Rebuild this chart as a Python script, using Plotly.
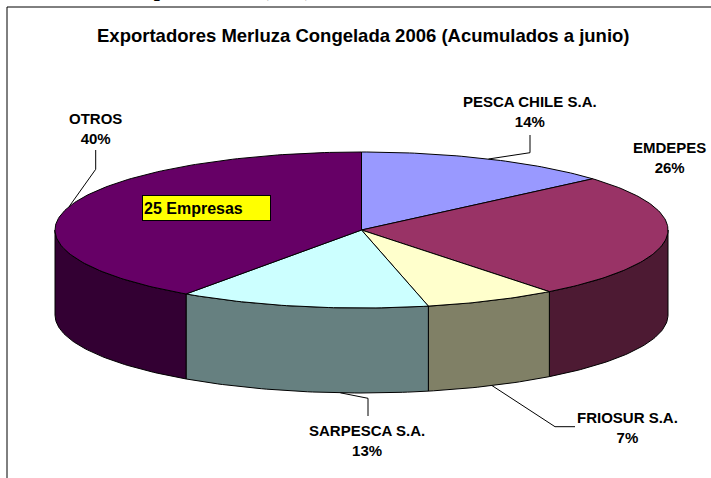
import numpy as np
import plotly.graph_objects as go

# ---- data ----
companies = ["PESCA CHILE S.A.", "EMDEPES", "FRIOSUR S.A.", "SARPESCA S.A.", "OTROS"]
shares = [13.6, 25.9, 7.0, 13.2, 40.3]
top_colors = ["#9999FF", "#993366", "#FFFFCC", "#CCFFFF", "#660066"]
side_colors = ["#4D4D80", "#4D1A33", "#808066", "#668080", "#330033"]
title_text = "Exportadores Merluza Congelada 2006 (Acumulados a junio)"
note_text = "25 Empresas"

# ---- layout geometry (pixel space) ----
W, H = 711, 478
CX, CY, RX, RY, DEPTH = 361.5, 230.0, 306.5, 78.0, 85.0

label_pos = {
    "PESCA CHILE S.A.": (530, 111),
    "EMDEPES": (669, 157),
    "FRIOSUR S.A.": (627, 427),
    "SARPESCA S.A.": (367, 440),
    "OTROS": (95, 128),
}
leader_elbows = {
    "PESCA CHILE S.A.": [(530, 135), (530, 152.7)],
    "FRIOSUR S.A.": [(575, 426.7), (555, 426.7)],
    "SARPESCA S.A.": [(368, 416), (368, 398.3)],
    "OTROS": [(95.7, 150), (95.7, 169.3)],
}
leader_angle_shift = {"SARPESCA S.A.": -7.2}


def ell(theta, dy=0.0):
    t = np.radians(theta)
    return CX + RX * np.sin(t), CY - RY * np.cos(t) + dy


def arc(a, b, dy=0.0):
    n = max(2, int(abs(b - a)) + 2)
    th = np.linspace(a, b, n)
    x, y = ell(th, dy)
    return list(x), list(y)


total = float(sum(shares))
pcts = [round(s / total * 100) for s in shares]
bounds = np.concatenate([[0.0], np.cumsum(shares) / total * 360.0])

fig = go.Figure()

# side walls (visible front half: 90..270 deg)
for i, name in enumerate(companies):
    a, b = max(bounds[i], 90.0), min(bounds[i + 1], 270.0)
    if b <= a:
        continue
    tx, ty = arc(a, b)
    bx, by = arc(b, a, DEPTH)
    fig.add_trace(go.Scatter(
        x=tx + bx + [tx[0]], y=ty + by + [ty[0]], mode="lines", fill="toself",
        fillcolor=side_colors[i], line=dict(color="black", width=1),
        hoverinfo="skip", showlegend=False))

# top faces
for i, name in enumerate(companies):
    ax_, ay_ = arc(bounds[i], bounds[i + 1])
    fig.add_trace(go.Scatter(
        x=[CX] + ax_ + [CX], y=[CY] + ay_ + [CY], mode="lines", fill="toself",
        fillcolor=top_colors[i], line=dict(color="black", width=1),
        name=name, hoverinfo="name", showlegend=False))

# leader lines
for i, name in enumerate(companies):
    if name not in leader_elbows:
        continue
    mid = (bounds[i] + bounds[i + 1]) / 2 + leader_angle_shift.get(name, 0.0)
    dy = DEPTH if 90 < mid < 270 else 0.0
    ex, ey = ell(mid, dy)
    pts = leader_elbows[name]
    fig.add_trace(go.Scatter(
        x=[p[0] for p in pts] + [ex], y=[p[1] for p in pts] + [ey],
        mode="lines", line=dict(color="black", width=1),
        hoverinfo="skip", showlegend=False))

annotations = []
for i, name in enumerate(companies):
    lx, ly = label_pos[name]
    annotations.append(dict(
        x=lx, y=ly, xref="x", yref="y", showarrow=False,
        text=f"<b>{name}<br>{pcts[i]}%</b>", align="center",
        xanchor="center", yanchor="middle",
        font=dict(family="Liberation Sans, Arial", size=15, color="black")))

annotations.append(dict(
    x=363.5, y=35, xref="x", yref="y", showarrow=False,
    text=f"<b>{title_text}</b>", xanchor="center", yanchor="middle",
    font=dict(family="Liberation Sans, Arial", size=18.5, color="black")))

annotations.append(dict(
    x=142, y=195, xref="x", yref="y", showarrow=False,
    text=f"<b>{note_text}</b>", xanchor="left", yanchor="top", align="left",
    width=125, height=22, bgcolor="#FFFF00", bordercolor="black",
    borderwidth=1, borderpad=1,
    font=dict(family="Liberation Sans, Arial", size=16, color="black")))

# clipped heading above the chart frame
annotations.append(dict(
    x=126, y=3, xref="x", yref="y", showarrow=False,
    text="<b>Exportadores (ton.)</b>", xanchor="left", yanchor="bottom",
    font=dict(family="Liberation Serif, Times New Roman", size=22, color="black")))

shapes = [
    dict(type="line", xref="x", yref="y", x0=7, y0=7, x1=W, y1=7,
         line=dict(color="black", width=1)),
    dict(type="line", xref="x", yref="y", x0=7, y0=7, x1=7, y1=H,
         line=dict(color="black", width=1)),
]

fig.update_layout(
    width=W, height=H, margin=dict(l=0, r=0, t=0, b=0),
    paper_bgcolor="white", plot_bgcolor="white",
    xaxis=dict(range=[0, W], visible=False, fixedrange=True),
    yaxis=dict(range=[H, 0], visible=False, fixedrange=True),
    annotations=annotations, shapes=shapes, showlegend=False,
)

fig.write_html(
    "out.html",
    config={"displayModeBar": False},
    post_script="document.body.style.margin='0';document.body.style.overflow='hidden';",
)
